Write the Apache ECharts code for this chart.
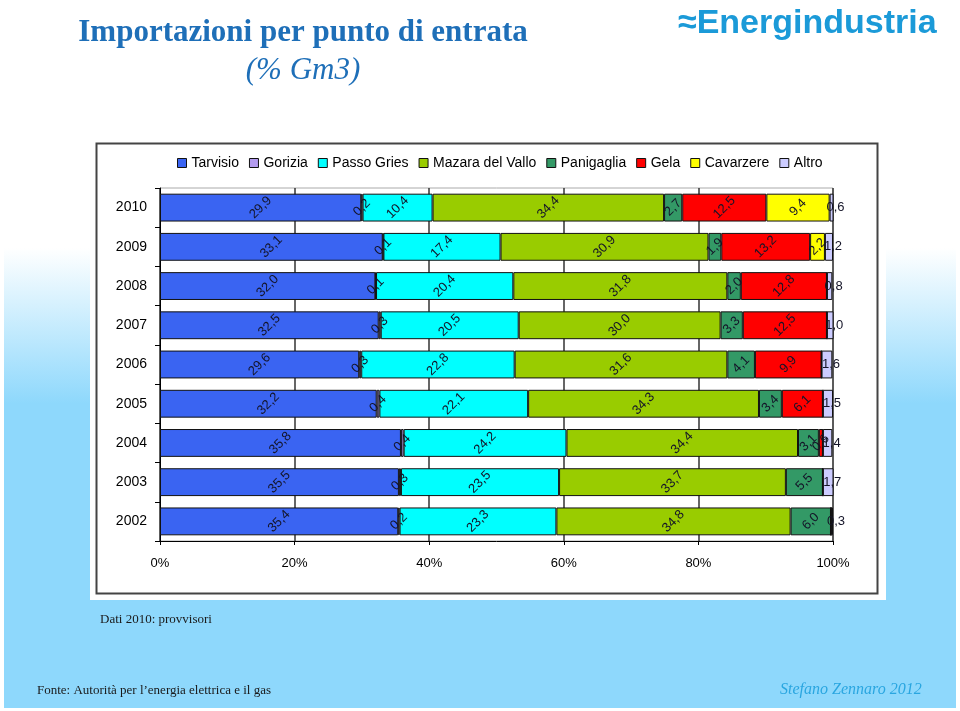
<!DOCTYPE html>
<html><head><meta charset="utf-8">
<script src="https://cdn.jsdelivr.net/npm/echarts@6/dist/echarts.min.js"></script>
<style>html,body{margin:0;padding:0;background:#fff}#c{width:960px;height:711px}</style>
</head><body><div id="c"></div>
<script>
const years = ['2002','2003','2004','2005','2006','2007','2008','2009','2010'];
const seriesNames = ['Tarvisio','Gorizia','Passo Gries','Mazara del Vallo','Panigaglia','Gela','Cavarzere','Altro'];
const tarvisio   = [35.4, 35.5, 35.8, 32.2, 29.6, 32.5, 32.0, 33.1, 29.9];
const gorizia    = [0.2, 0.3, 0.4, 0.4, 0.3, 0.3, 0.1, 0.1, 0.2];
const passoGries = [23.3, 23.5, 24.2, 22.1, 22.8, 20.5, 20.4, 17.4, 10.4];
const mazara     = [34.8, 33.7, 34.4, 34.3, 31.6, 30.0, 31.8, 30.9, 34.4];
const panigaglia = [6.0, 5.5, 3.1, 3.4, 4.1, 3.3, 2.0, 1.9, 2.7];
const gela       = [0, 0, 0.6, 6.1, 9.9, 12.5, 12.8, 13.2, 12.5];
const cavarzere  = [0, 0, 0, 0, 0, 0, 0, 2.2, 9.4];
const altro      = [0.3, 1.7, 1.4, 1.5, 1.6, 1.0, 0.8, 1.2, 0.6];
const xTicks = [0, 20, 40, 60, 80, 100];
const colors = ['#3a64f2','#b49cf0','#00ffff','#99cc00','#339966','#ff0000','#ffff00','#ccccff'];
const values = [tarvisio, gorizia, passoGries, mazara, panigaglia, gela, cavarzere, altro];

const fmt = p => p.value ? p.value.toFixed(1).replace('.', ',') : '';

const chart = echarts.init(document.getElementById('c'));
const series = seriesNames.map((n, i) => ({
  name: n, type: 'bar', stack: 'total', data: values[i],
  barCategoryGap: '29%',
  itemStyle: { color: colors[i], borderColor: '#111', borderWidth: 1 },
  label: {
    show: true, position: 'inside', rotate: i === 7 ? 0 : 45,
    offset: i === 7 ? [4, 0] : [0, 0],
    formatter: fmt, color: '#141428', fontSize: 13, fontFamily: 'Liberation Sans, Arial'
  }
}));

chart.setOption({
  animation: false,
  color: colors,
  graphic: { elements: [
    { type: 'rect', z: -100, shape: { x: 4, y: 0, width: 952, height: 708 },
      style: { fill: { type: 'linear', x: 0, y: 0, x2: 0, y2: 1, colorStops: [
        { offset: 0, color: '#ffffff' }, { offset: 0.35, color: '#ffffff' },
        { offset: 0.57, color: '#8ed8fc' }, { offset: 1, color: '#8ed8fc' } ] } } },
    { type: 'rect', z: -99, shape: { x: 90, y: 139, width: 796, height: 461 }, style: { fill: '#ffffff' } },
    { type: 'rect', z: -98, shape: { x: 96.5, y: 143.5, width: 781, height: 450 }, style: { fill: '#ffffff', stroke: '#444', lineWidth: 2 } },
    { type: 'text', z: 10, x: 303, y: 17, style: { text: 'Importazioni per punto di entrata', font: 'bold 31px "Liberation Serif", serif', fill: '#1e6fb8', textAlign: 'center' } },
    { type: 'text', z: 10, x: 303, y: 55, style: { text: '(% Gm3)', font: 'italic 31px "Liberation Serif", serif', fill: '#1e6fb8', textAlign: 'center' } },
    { type: 'text', z: 10, x: 678, y: 7, style: { text: '≈Energindustria', font: 'bold 34px "Liberation Sans", Arial, sans-serif', fill: '#1b9ad8' } },
    { type: 'text', z: 10, x: 100, y: 613, style: { text: 'Dati 2010: provvisori', font: '13px "Liberation Serif", serif', fill: '#1a1a1a' } },
    { type: 'text', z: 10, x: 37, y: 684, style: { text: 'Fonte: Autorità per l\u2019energia elettrica e il gas', font: '13px "Liberation Serif", serif', fill: '#1a1a1a' } },
    { type: 'text', z: 10, x: 780, y: 682, style: { text: 'Stefano Zennaro 2012', font: 'italic 16px "Liberation Serif", serif', fill: '#2aa6e0' } }
  ]},
  legend: {
    top: 151, left: 172, itemWidth: 9, itemHeight: 9, itemGap: 10,
    icon: 'rect',
    itemStyle: { borderColor: '#111', borderWidth: 1 },
    textStyle: { fontSize: 14, color: '#000', fontFamily: '"Liberation Sans Narrow", "Liberation Sans", Arial' },
    data: seriesNames
  },
  grid: { left: 160, right: 127, top: 188, bottom: 170, show: true, borderColor: '#aaa', borderWidth: 1, backgroundColor: 'transparent' },
  xAxis: {
    type: 'value', min: 0, max: 100, interval: 20,
    axisLine: { show: true, lineStyle: { color: '#000', width: 1 } },
    axisTick: { show: true, length: 4, lineStyle: { color: '#000' } },
    axisLabel: { formatter: v => xTicks.includes(v) ? v + '%' : '', color: '#000', fontSize: 13, margin: 16, fontFamily: 'Liberation Sans, Arial' },
    splitLine: { show: true, lineStyle: { color: '#333', width: 1.5 } }
  },
  yAxis: {
    type: 'category', data: years,
    axisLine: { show: true, lineStyle: { color: '#000', width: 1 } },
    axisTick: { show: true, length: 5, lineStyle: { color: '#000' } },
    axisLabel: { color: '#000', fontSize: 14, margin: 13, fontFamily: 'Liberation Sans, Arial' }
  },
  series
});
</script></body></html>
